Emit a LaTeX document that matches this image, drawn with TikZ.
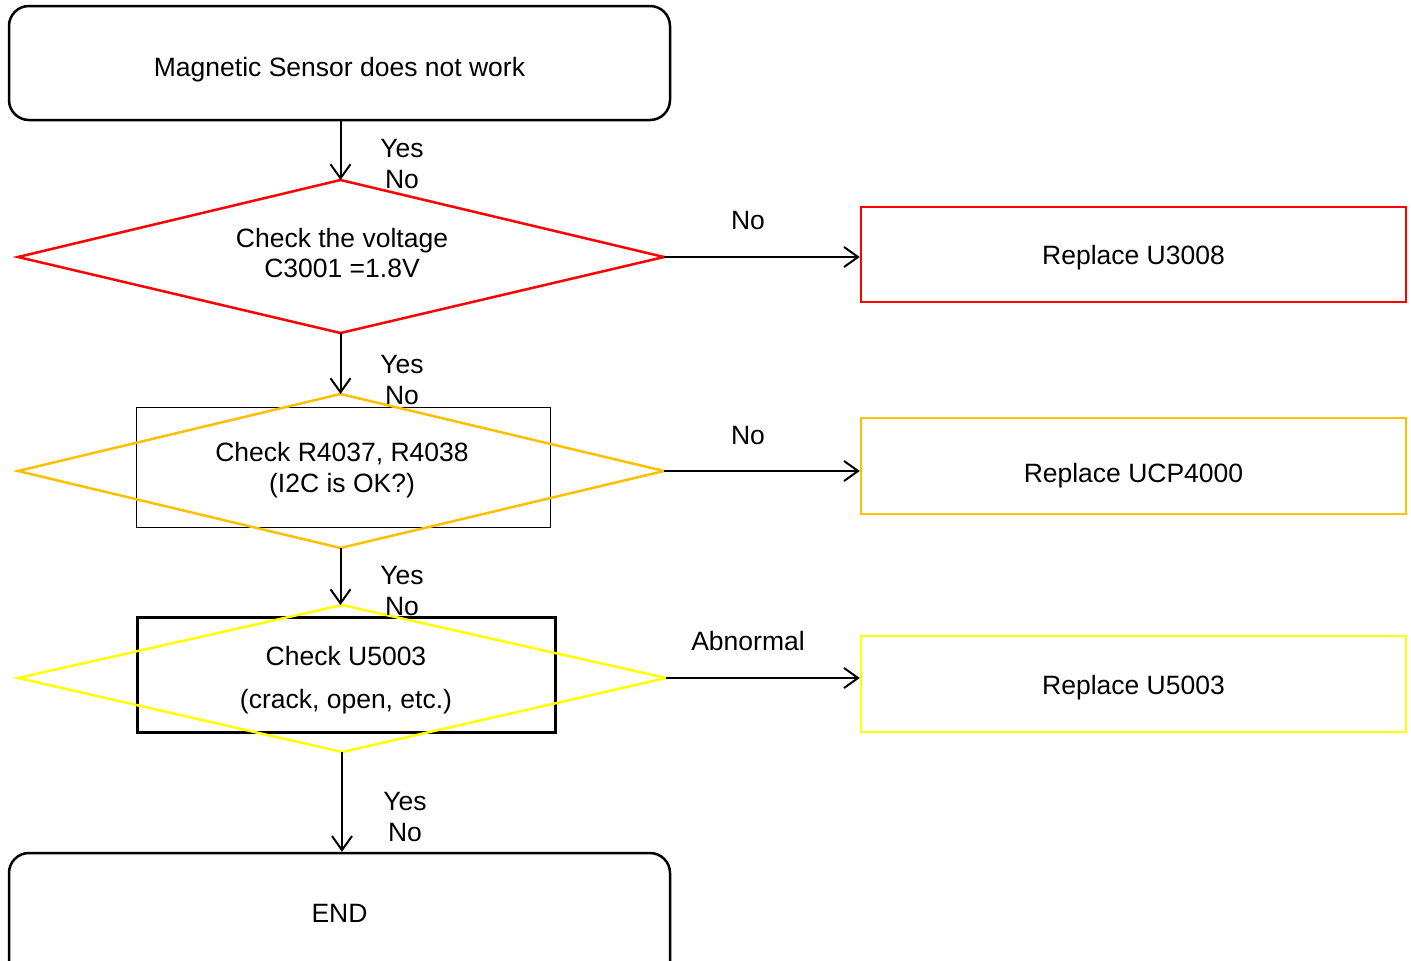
\documentclass[tikz,border=0pt]{standalone}
\usepackage{fontspec}
\setmainfont{Liberation Sans}
\usetikzlibrary{arrows.meta}
\definecolor{myred}{RGB}{255,0,0}
\definecolor{myorange}{RGB}{255,192,0}
\definecolor{myyellow}{RGB}{255,255,0}
\begin{document}
\begin{tikzpicture}[x=1pt,y=-1pt,
  txt/.style={font=\fontsize{26.5}{30}\selectfont, inner sep=0pt, anchor=base},
  conn/.style={draw=black, line width=2pt, -{Straight Barb[length=14pt,width=20pt,line width=2pt]}},
  roundbox/.style={draw=black, line width=2.5pt, rounded corners=20pt},
  actbox/.style={draw, line width=2.5pt, minimum width=545pt, inner sep=0pt},
  diam/.style={line width=2.5pt, line join=miter}
]
\useasboundingbox (0,0) rectangle (1411,961);
\clip (0,0) rectangle (1411,961);

% start box
\node[roundbox, minimum width=661pt, minimum height=114pt, inner sep=0pt] (start) at (339.5,63) {};
\node[txt] (starttxt) at (339.5,76.5) {Magnetic Sensor does not work};

% diamond 1
\coordinate (d1n) at (340.5,180);
\coordinate (d1e) at (664,257);
\coordinate (d1s) at (340.5,333);
\coordinate (d1w) at (18,257);
\draw[diam, draw=myred] (d1n) -- (d1e) -- (d1s) -- (d1w) -- cycle;
\node[txt] (d1a) at (342,247.5) {Check the voltage};
\node[txt] (d1b) at (342,277.5) {C3001 =1.8V};

% diamond 2
\draw[black, line width=1pt] (136,407) rectangle (550,527);
\coordinate (d2n) at (340.5,394);
\coordinate (d2e) at (664,471);
\coordinate (d2s) at (340.5,548);
\coordinate (d2w) at (18,471);
\draw[diam, draw=myorange] (d2n) -- (d2e) -- (d2s) -- (d2w) -- cycle;
\node[txt] (d2a) at (342,461.5) {Check R4037, R4038};
\node[txt] (d2b) at (342,492.5) {(I2C is OK?)};

% diamond 3
\draw[black, line width=3pt] (137,617) rectangle (555,732);
\coordinate (d3n) at (342,605);
\coordinate (d3e) at (666,678);
\coordinate (d3s) at (342,752);
\coordinate (d3w) at (18,678);
\draw[diam, draw=myyellow] (d3n) -- (d3e) -- (d3s) -- (d3w) -- cycle;
\node[txt] (d3a) at (346,665.5) {Check U5003};
\node[txt] (d3b) at (346,708.5) {(crack, open, etc.)};

% action boxes
\node[actbox, draw=myred, minimum height=95pt] (r1) at (1133.5,254.5) {};
\node[txt] (r1t) at (1133.5,264.5) {Replace U3008};
\node[actbox, draw=myorange, minimum height=96pt] (r2) at (1133.5,466) {};
\node[txt] (r2t) at (1133.5,482.5) {Replace UCP4000};
\node[actbox, draw=myyellow, minimum height=96pt] (r3) at (1133.5,684) {};
\node[txt] (r3t) at (1133.5,694.5) {Replace U5003};

% end box
\node[roundbox, minimum width=661pt, minimum height=130pt, inner sep=0pt] (endbox) at (339.5,918) {};
\node[txt] (endtxt) at (339.5,922.5) {END};

% vertical connectors
\draw[conn] (start.south -| d1n) -- (d1n);
\draw[conn] (d1s) -- (d2n);
\draw[conn] (d2s) -- (d2s |- d3n);
\draw[conn] (d3s) -- (d3s |- endbox.north);

% horizontal connectors
\draw[conn] (d1e) -- (d1e -| r1.west);
\draw[conn] (d2e) -- (d2e -| r2.west);
\draw[conn] (d3e) -- (d3e -| r3.west);

% labels
\node[txt] (y1) at (402,157.5) {Yes};
\node[txt] (n1) at (402,188.5) {No};
\node[txt] (y2) at (402,373.5) {Yes};
\node[txt] (n2) at (402,404.5) {No};
\node[txt] (y3) at (402,584.5) {Yes};
\node[txt] (n3) at (402,615.5) {No};
\node[txt] (y4) at (405,810.5) {Yes};
\node[txt] (n4) at (405,841.5) {No};
\node[txt] (h1) at (748,229.5) {No};
\node[txt] (h2) at (748,444.5) {No};
\node[txt] (h3) at (748,650.5) {Abnormal};
\end{tikzpicture}
\end{document}
